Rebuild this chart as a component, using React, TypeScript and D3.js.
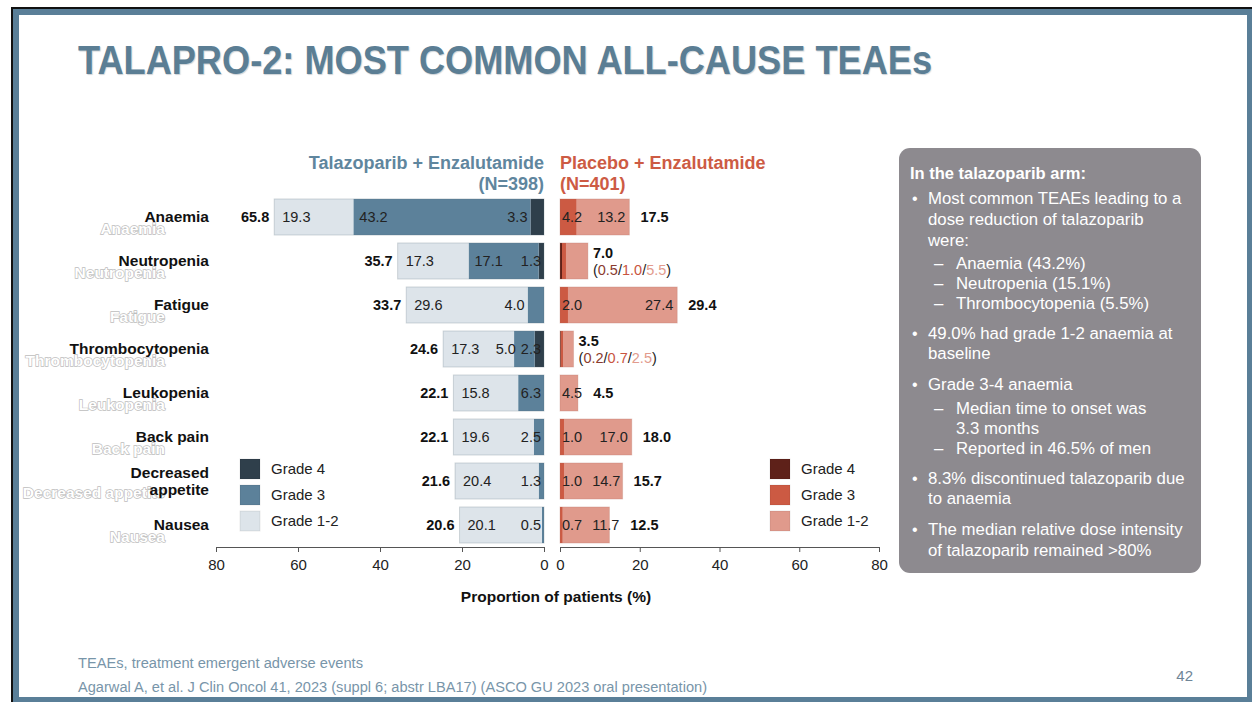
import React, { useEffect, useRef } from "react";
import * as d3 from "d3";

// Adverse events, ordered by frequency in the talazoparib arm
const categories = [
  "Anaemia",
  "Neutropenia",
  "Fatigue",
  "Thrombocytopenia",
  "Leukopenia",
  "Back pain",
  "Decreased appetite",
  "Nausea",
];

// Talazoparib + enzalutamide (N=398), % of patients
const talaGrade12 = [19.3, 17.3, 29.6, 17.3, 15.8, 19.6, 20.4, 20.1];
const talaGrade3 = [43.2, 17.1, 4.0, 5.0, 6.3, 2.5, 1.3, 0.5];
const talaGrade4 = [3.3, 1.3, 0, 2.3, 0, 0, 0, 0];
const talaTotal = [65.8, 35.7, 33.7, 24.6, 22.1, 22.1, 21.6, 20.6];

// Placebo + enzalutamide (N=401), % of patients
const placGrade12 = [13.2, 5.5, 27.4, 2.5, 4.5, 17.0, 14.7, 11.7];
const placGrade3 = [4.2, 1.0, 2.0, 0.7, 0, 1.0, 1.0, 0.7];
const placGrade4 = [0, 0.5, 0, 0.2, 0, 0, 0, 0];
const placTotal = [17.5, 7.0, 29.4, 3.5, 4.5, 18.0, 15.7, 12.5];

const axisTicks = [0, 20, 40, 60, 80];
const gradeKeys = ["g4", "g3", "g12"];
const gradeNames = ["Grade 4", "Grade 3", "Grade 1-2"];

const boxLines: { kind: string; text: string; y: number }[] = [
  { kind: "head", text: "In the talazoparib arm:", y: 173 },
  { kind: "bullet", text: "Most common TEAEs leading to a", y: 198 },
  { kind: "cont", text: "dose reduction of talazoparib", y: 219 },
  { kind: "cont", text: "were:", y: 240 },
  { kind: "dash", text: "Anaemia (43.2%)", y: 263 },
  { kind: "dash", text: "Neutropenia (15.1%)", y: 283 },
  { kind: "dash", text: "Thrombocytopenia (5.5%)", y: 303 },
  { kind: "bullet", text: "49.0% had grade 1-2 anaemia at", y: 333 },
  { kind: "cont", text: "baseline", y: 353 },
  { kind: "bullet", text: "Grade 3-4 anaemia", y: 384 },
  { kind: "dash", text: "Median time to onset was", y: 408 },
  { kind: "subcont", text: "3.3 months", y: 428 },
  { kind: "dash", text: "Reported in 46.5% of men", y: 448 },
  { kind: "bullet", text: "8.3% discontinued talazoparib due", y: 478 },
  { kind: "cont", text: "to anaemia", y: 498 },
  { kind: "bullet", text: "The median relative dose intensity", y: 529 },
  { kind: "cont", text: "of talazoparib remained >80%", y: 550 },
];

const FONT = "'Liberation Sans', Arial, Helvetica, sans-serif";
const LEFT_COLORS: Record<string, string> = { g4: "#2f3f4b", g3: "#5c819a", g12: "#dde4ea" };
const RIGHT_COLORS: Record<string, string> = { g4: "#5e2119", g3: "#cc5a43", g12: "#e09a8c" };
const BREAKDOWN_TEXT: Record<string, string> = { g4: "#8a3b2e", g3: "#c9553f", g12: "#e29b8d" };

let measureCtx: CanvasRenderingContext2D | null = null;
function textWidth(s: string, size: number, weight = "normal") {
  if (!measureCtx) measureCtx = document.createElement("canvas").getContext("2d");
  if (!measureCtx) return s.length * size * 0.55;
  measureCtx.font = `${weight} ${size}px 'Liberation Sans'`;
  return measureCtx.measureText(s).width;
}

const fmt = (v: number) => v.toFixed(1);

export default function App() {
  const axLeftRef = useRef<SVGGElement>(null);
  const axRightRef = useRef<SVGGElement>(null);

  const xL = d3.scaleLinear().domain([0, 80]).range([544, 216]);
  const xR = d3.scaleLinear().domain([0, 80]).range([560, 879]);
  const y = d3
    .scaleBand<string>()
    .domain(categories)
    .range([195, 547])
    .paddingInner(0.18)
    .paddingOuter(0.09);
  const bw = y.bandwidth();

  const leftRows = categories.map((c, i) => ({
    cat: c,
    g4: talaGrade4[i],
    g3: talaGrade3[i],
    g12: talaGrade12[i],
  }));
  const rightRows = categories.map((c, i) => ({
    cat: c,
    g4: placGrade4[i],
    g3: placGrade3[i],
    g12: placGrade12[i],
  }));
  const stack = d3.stack<any>().keys(gradeKeys);
  const leftSeries = stack(leftRows);
  const rightSeries = stack(rightRows);

  useEffect(() => {
    const style = (g: any) => {
      g.selectAll(".domain").attr("stroke", "#555").attr("stroke-width", 1);
      g.selectAll(".tick line").attr("stroke", "#555");
      g.selectAll(".tick text")
        .attr("fill", "#222")
        .style("font-size", "15px")
        .style("font-family", FONT);
    };
    d3.select(axLeftRef.current)
      .call(d3.axisBottom(xL).tickValues(axisTicks).tickSize(5).tickPadding(7) as any)
      .call(style);
    d3.select(axRightRef.current)
      .call(d3.axisBottom(xR).tickValues(axisTicks).tickSize(5).tickPadding(7) as any)
      .call(style);
  }, []);

  const VAL = 14.5;

  // In-bar value labels for the talazoparib arm
  const leftLabels: React.ReactNode[] = [];
  categories.forEach((c, i) => {
    const cy = (y(c) as number) + bw / 2;
    const g4 = talaGrade4[i];
    const g3 = talaGrade3[i];
    const g12 = talaGrade12[i];
    const barLeft = xL(g4 + g3 + g12);
    leftLabels.push(
      <text key={`l12-${i}`} x={barLeft + 8} y={cy} dy="0.35em" fontSize={VAL} fill="#222">
        {fmt(g12)}
      </text>
    );
    const g3px = xL(0) - xL(g3);
    const tail: { v: number; key: string }[] = [];
    if (g3 > 0 && g3px > 60) {
      leftLabels.push(
        <text key={`l3-${i}`} x={xL(g4 + g3) + 6} y={cy} dy="0.35em" fontSize={VAL} fill="#222">
          {fmt(g3)}
        </text>
      );
    } else if (g3 > 0) {
      tail.push({ v: g3, key: "g3" });
    }
    if (g4 > 0) tail.push({ v: g4, key: "g4" });
    // chain the tail labels from the zero line outward
    const inner = g4 > 0 ? g4 : g3;
    const innerPx = xL(0) - xL(inner);
    let right = innerPx >= 12 && innerPx < 20 ? xL(inner) - 3 : xL(0) - 3;
    for (let k = tail.length - 1; k >= 0; k--) {
      const s = fmt(tail[k].v);
      leftLabels.push(
        <text key={`lt-${i}-${k}`} x={right} y={cy} dy="0.35em" fontSize={VAL} fill="#222" textAnchor="end">
          {s}
        </text>
      );
      right -= textWidth(s, VAL) + 5;
    }
    leftLabels.push(
      <text
        key={`ltot-${i}`}
        x={barLeft - 5}
        y={cy}
        dy="0.35em"
        fontSize={VAL}
        fontWeight="bold"
        fill="#111"
        textAnchor="end"
      >
        {fmt(talaTotal[i])}
      </text>
    );
  });

  // Labels for the placebo arm
  const rightLabels: React.ReactNode[] = [];
  categories.forEach((c, i) => {
    const cy = (y(c) as number) + bw / 2;
    const g4 = placGrade4[i];
    const g3 = placGrade3[i];
    const g12 = placGrade12[i];
    const barEnd = xR(g4 + g3 + g12);
    const nonzero = [g4, g3, g12].filter((v) => v > 0).length;
    if (placTotal[i] < 8 && nonzero > 1) {
      const vals = [
        { v: g4, key: "g4" },
        { v: g3, key: "g3" },
        { v: g12, key: "g12" },
      ];
      rightLabels.push(
        <text key={`rt-${i}`} x={barEnd + 5} y={cy - 8} dy="0.35em" fontSize={VAL} fontWeight="bold" fill="#111">
          {fmt(placTotal[i])}
        </text>
      );
      rightLabels.push(
        <text key={`rb-${i}`} x={barEnd + 5} y={cy + 9} dy="0.35em" fontSize={VAL} fill="#222">
          {"("}
          {vals.map((d, k) => (
            <React.Fragment key={k}>
              <tspan fill={BREAKDOWN_TEXT[d.key]}>{fmt(d.v)}</tspan>
              {k < vals.length - 1 ? "/" : ""}
            </React.Fragment>
          ))}
          {")"}
        </text>
      );
      return;
    }
    const inBar = [g3, g12].filter((v) => v > 0);
    let lastEnd = xR(0);
    inBar.forEach((v, k) => {
      const s = fmt(v);
      const w = textWidth(s, VAL);
      let x0: number;
      if (k === 0) x0 = xR(0) + 2;
      else x0 = Math.max(barEnd - 4 - w, lastEnd + 10);
      rightLabels.push(
        <text key={`rv-${i}-${k}`} x={x0} y={cy} dy="0.35em" fontSize={VAL} fill="#222">
          {s}
        </text>
      );
      lastEnd = x0 + w;
    });
    rightLabels.push(
      <text
        key={`rtot-${i}`}
        x={Math.max(barEnd, lastEnd) + 11}
        y={cy}
        dy="0.35em"
        fontSize={VAL}
        fontWeight="bold"
        fill="#111"
      >
        {fmt(placTotal[i])}
      </text>
    );
  });

  const legend = (x: number, colors: Record<string, string>, tag: string) =>
    gradeKeys.map((k, j) => (
      <g key={`${tag}-${k}`}>
        <rect x={x} y={459 + j * 26} width={20} height={20} fill={colors[k]} stroke="rgba(0,0,0,0.08)" />
        <text x={x + 31} y={469 + j * 26} dy="0.35em" fontSize={15} fill="#222">
          {gradeNames[j]}
        </text>
      </g>
    ));

  return (
    <svg
      width={1252}
      height={702}
      style={{ position: "absolute", left: 0, top: 0, fontFamily: FONT }}
    >
      {/* slide frame */}
      <rect x={0} y={0} width={1252} height={702} fill="#ffffff" />
      <rect x={11} y={7} width={1241} height={695} fill="#111111" />
      <rect x={13} y={9} width={1239} height={693} fill="#5a7f98" />
      <rect x={19} y={15} width={1228} height={682} fill="#ffffff" />

      {/* title */}
      <text
        x={78}
        y={74}
        fontSize={40}
        fontWeight="bold"
        fill="#5b7e94"
        textLength={854}
        lengthAdjust="spacingAndGlyphs"
        style={{ textShadow: "1px 1px 1px rgba(60,80,95,0.25)" }}
      >
        TALAPRO-2: MOST COMMON ALL-CAUSE TEAEs
      </text>

      {/* arm headers */}
      <text x={544} y={169} fontSize={18} fontWeight="bold" fill="#5f869e" textAnchor="end">
        Talazoparib + Enzalutamide
      </text>
      <text x={544} y={190} fontSize={18} fontWeight="bold" fill="#5f869e" textAnchor="end">
        (N=398)
      </text>
      <text x={560} y={169} fontSize={18} fontWeight="bold" fill="#cd5b44">
        Placebo + Enzalutamide
      </text>
      <text x={560} y={190} fontSize={18} fontWeight="bold" fill="#cd5b44">
        (N=401)
      </text>

      {/* outlined shadow copies of the category names */}
      {categories.map((c) => (
        <text
          key={`ghost-${c}`}
          x={165}
          y={(y(c) as number) + bw / 2 + 12}
          dy="0.35em"
          fontSize={15.5}
          fontWeight="bold"
          fill="#ffffff"
          stroke="#bdbdbd"
          strokeWidth={1.4}
          style={{ paintOrder: "stroke" }}
          textAnchor="end"
        >
          {c}
        </text>
      ))}

      {/* category names */}
      {categories.map((c) => {
        const cy = (y(c) as number) + bw / 2;
        const words = c === "Decreased appetite" ? ["Decreased", "appetite"] : [c];
        return (
          <text key={`cat-${c}`} x={209} fontSize={15.5} fontWeight="bold" fill="#111" textAnchor="end">
            {words.map((w, k) => (
              <tspan key={k} x={209} y={cy + (k - (words.length - 1) / 2) * 17} dy="0.35em">
                {w}
              </tspan>
            ))}
          </text>
        );
      })}

      {/* talazoparib bars */}
      {leftSeries.map((s) => (
        <g key={`ls-${s.key}`} fill={LEFT_COLORS[s.key]}>
          {s.map((d, i) =>
            d[1] - d[0] > 0 ? (
              <rect
                key={i}
                x={xL(d[1])}
                y={y(categories[i])}
                width={xL(d[0]) - xL(d[1])}
                height={bw}
              />
            ) : null
          )}
        </g>
      ))}
      {categories.map((c, i) => {
        const tot = talaGrade4[i] + talaGrade3[i] + talaGrade12[i];
        return (
          <rect
            key={`lo-${c}`}
            x={xL(tot)}
            y={y(c)}
            width={xL(0) - xL(tot)}
            height={bw}
            fill="none"
            stroke="rgba(90,110,125,0.25)"
            strokeWidth={1}
          />
        );
      })}

      {/* placebo bars */}
      {rightSeries.map((s) => (
        <g key={`rs-${s.key}`} fill={RIGHT_COLORS[s.key]}>
          {s.map((d, i) =>
            d[1] - d[0] > 0 ? (
              <rect
                key={i}
                x={xR(d[0])}
                y={y(categories[i])}
                width={xR(d[1]) - xR(d[0])}
                height={bw}
              />
            ) : null
          )}
        </g>
      ))}
      {categories.map((c, i) => {
        const tot = placGrade4[i] + placGrade3[i] + placGrade12[i];
        return (
          <rect
            key={`ro-${c}`}
            x={xR(0)}
            y={y(c)}
            width={xR(tot) - xR(0)}
            height={bw}
            fill="none"
            stroke="rgba(180,110,95,0.25)"
            strokeWidth={1}
          />
        );
      })}

      {leftLabels}
      {rightLabels}

      {legend(240, LEFT_COLORS, "ll")}
      {legend(770, RIGHT_COLORS, "rl")}

      {/* axes */}
      <g ref={axLeftRef} transform="translate(0,547)" />
      <g ref={axRightRef} transform="translate(0,547)" />
      <text x={556} y={597} dy="0.35em" fontSize={15.5} fontWeight="bold" fill="#111" textAnchor="middle">
        Proportion of patients (%)
      </text>

      {/* key findings box */}
      <rect x={899} y={148} width={302} height={425} rx={11} fill="#8d8a8f" />
      {boxLines.map((l, k) => {
        const common = { y: l.y, dy: "0.35em", fill: "#ffffff" } as any;
        if (l.kind === "head")
          return (
            <text key={k} x={910} fontSize={16.5} fontWeight="bold" {...common}>
              {l.text}
            </text>
          );
        const parts: React.ReactNode[] = [];
        if (l.kind === "bullet")
          parts.push(
            <text key={`b${k}`} x={912} fontSize={16} {...common}>
              •
            </text>
          );
        if (l.kind === "dash")
          parts.push(
            <text key={`d${k}`} x={934} fontSize={16.8} {...common}>
              –
            </text>
          );
        const tx = l.kind === "dash" || l.kind === "subcont" ? 956 : 928;
        parts.push(
          <text key={`t${k}`} x={tx} fontSize={16.8} {...common}>
            {l.text}
          </text>
        );
        return <g key={k}>{parts}</g>;
      })}

      {/* footnotes */}
      <text x={78} y={663} dy="0.35em" fontSize={14} fill="#7895a9" textLength={285} lengthAdjust="spacingAndGlyphs">
        TEAEs, treatment emergent adverse events
      </text>
      <text x={78} y={687} dy="0.35em" fontSize={14} fill="#7895a9" textLength={629} lengthAdjust="spacingAndGlyphs">
        Agarwal A, et al. J Clin Oncol 41, 2023 (suppl 6; abstr LBA17) (ASCO GU 2023 oral presentation)
      </text>
      <text x={1193} y={676} dy="0.35em" fontSize={15} fill="#6f8597" textAnchor="end">
        42
      </text>
    </svg>
  );
}
